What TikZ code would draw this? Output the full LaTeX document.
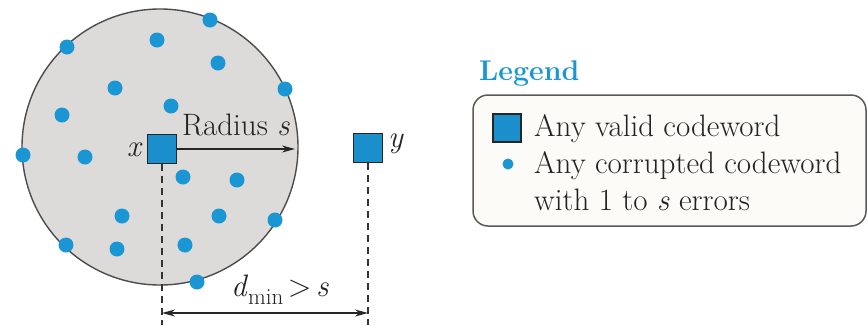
\documentclass[tikz,border=0pt]{standalone}
\usepackage{fontspec}
\usetikzlibrary{arrows.meta}
\definecolor{cblue}{HTML}{1A96D4}
\definecolor{sqblue}{HTML}{1A8FCC}
\definecolor{diskgray}{HTML}{DCDBDA}
\definecolor{boxfill}{HTML}{FCFBF7}
\definecolor{ink}{HTML}{222222}
\tikzset{
  codeword/.style={draw=black!85, line width=1.3pt, fill=sqblue, minimum size=29pt, inner sep=0pt},
  corrupt/.style={circle, fill=cblue, minimum size=15pt, inner sep=0pt},
  lbl/.style={font=\fontsize{31}{36}\selectfont, text=ink, inner sep=0pt},
  guide/.style={dashed, dash pattern=on 7pt off 5pt, line width=1.2pt, draw=black!80},
  arr/.style={line width=1.4pt, draw=black!85, -{Stealth[length=13pt,width=7pt]}},
  darr/.style={line width=1.4pt, draw=black!85, {Stealth[length=13pt,width=7pt]}-{Stealth[length=13pt,width=7pt]}}
}
\begin{document}
\begin{tikzpicture}[x=1pt,y=-1pt]
\useasboundingbox (0,0) rectangle (868,325);
% disk
\draw[fill=diskgray, draw=black!70, line width=1.4pt] (160,147) circle[radius=138];
% corrupted codewords
\foreach \px/\py [count=\i] in {210/20,157/40,67/47,218/63,285/89,115/88,62/115,171/106,23/155,85/157,183/177,237/180,122/216,219/216,275/220,66/245,117/249,185/245,197/282}
  \node[corrupt] (d\i) at (\px,\py) {};
% valid codewords
\node[codeword] (x) at (162,149) {};
\node[codeword] (y) at (368,148) {};
\node[lbl, anchor=east] (xl) at (141,150) {\itshape x};
\node[lbl, anchor=west] (yl) at (388,144) {\itshape y};
% radius arrow
\coordinate (rim) at (295,149);
\draw[arr] (x.east) -- (rim);
\node[lbl, anchor=base] (rad) at (236,135) {Radius \textit{s}};
% dashed guides
\coordinate (xb) at (162,325);
\coordinate (yb) at (368,325);
\draw[guide] (x.south) -- (xb);
\draw[guide] (y.south) -- (yb);
% dmin arrow
\coordinate (da) at (162,313);
\coordinate (db) at (368,313);
\draw[darr] (da) -- (db);
\node[lbl, anchor=base] (dmin) at (280,296) {\textit{d}\raisebox{-0.28em}{\fontsize{23}{26}\selectfont min}\hspace{0.15em}>\hspace{0.15em}\textit{s}};
% legend
\node[lbl, anchor=west, text=cblue, font=\fontsize{28.5}{34}\selectfont\bfseries] (leg) at (479,73) {Legend};
\node[draw=black!65, line width=1.5pt, fill=boxfill, rounded corners=15pt, minimum width=393pt, minimum height=131pt, inner sep=0pt] (box) at (669.5,160.5) {};
\node[codeword, minimum size=28pt] (lsq) at (507,128) {};
\node[corrupt, minimum size=11pt] (ldot) at (508,164) {};
\node[lbl, anchor=base west] (t1) at (534,136) {Any valid codeword};
\node[lbl, anchor=base west] (t2) at (534,173) {Any corrupted codeword};
\node[lbl, anchor=base west] (t3) at (534,210) {with 1 to \textit{s} errors};
\end{tikzpicture}
\end{document}
